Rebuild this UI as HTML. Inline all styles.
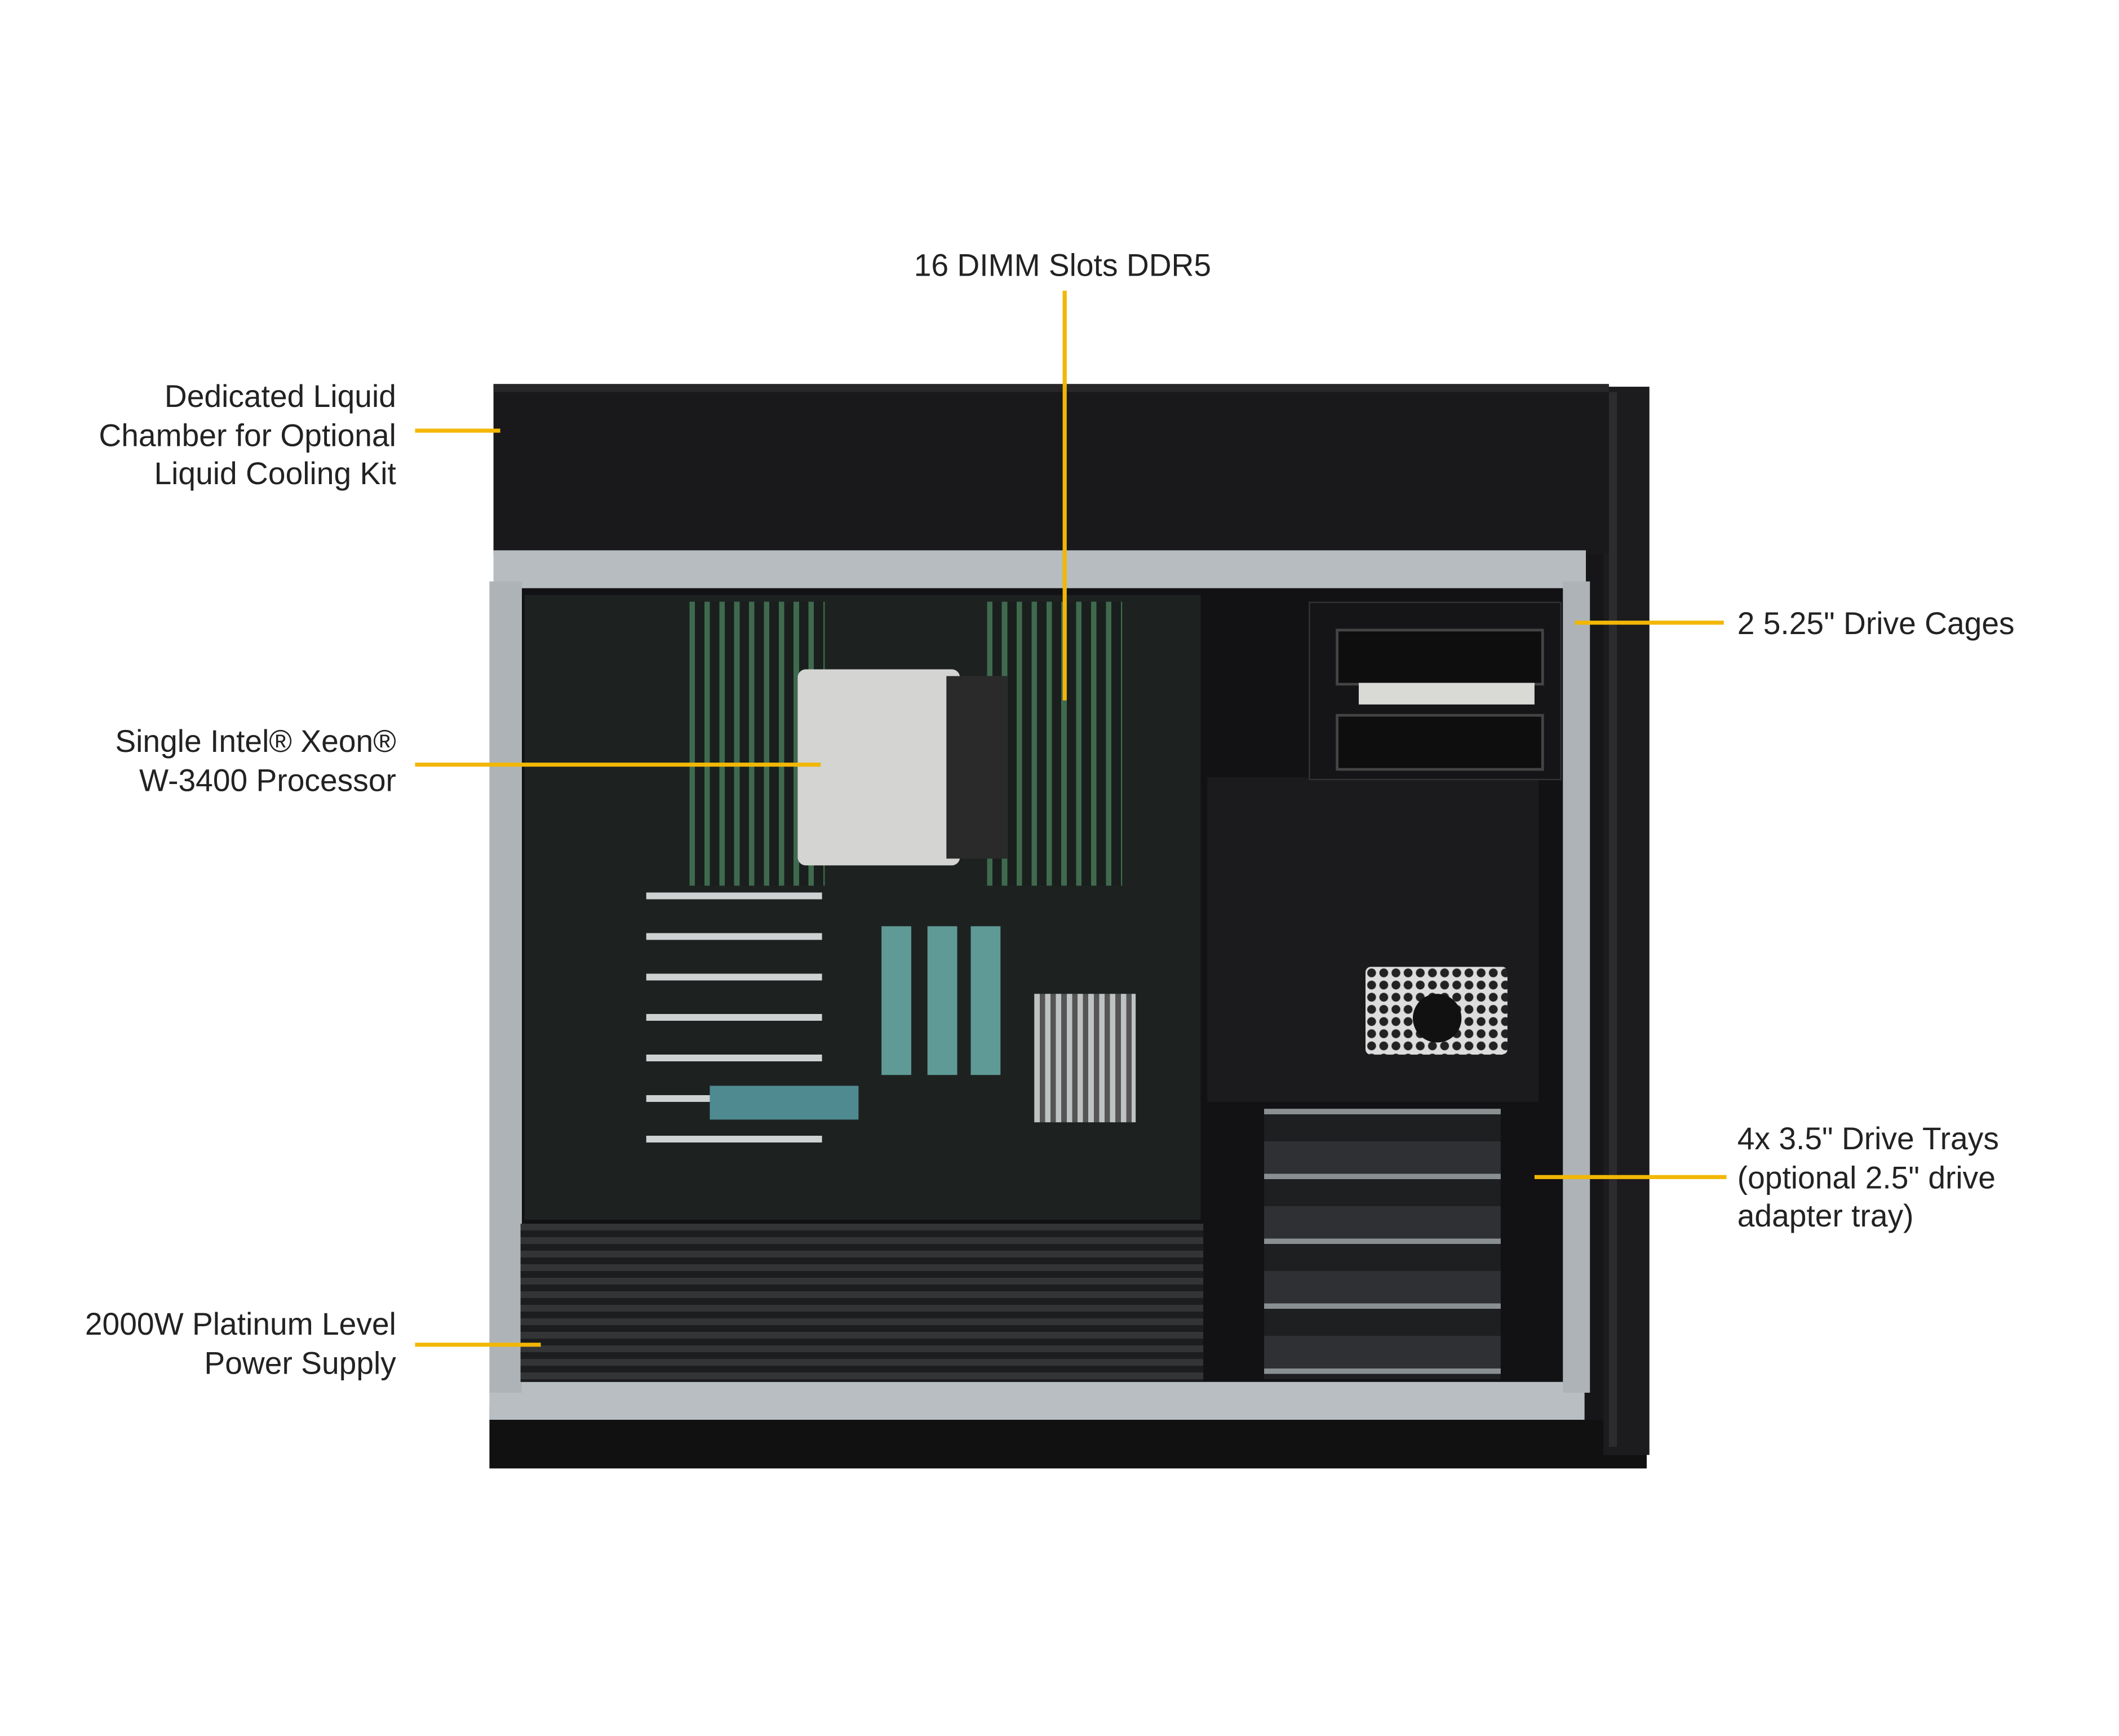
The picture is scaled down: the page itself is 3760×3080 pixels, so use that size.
<!DOCTYPE html>
<html><head><meta charset="utf-8"><style>
html,body{margin:0;padding:0;background:#fff;}
body{width:3760px;height:3080px;overflow:hidden;position:relative;}
#s{position:absolute;left:0;top:0;width:1568px;height:1284px;transform:scale(2.399);transform-origin:0 0;}
.a{position:absolute;}
.t{position:absolute;font-family:"Liberation Sans",Arial,sans-serif;font-size:23px;color:#222;line-height:28.5px;white-space:nowrap;}
.r{text-align:right;}
.y{position:absolute;background:#f2b705;}
</style></head><body><div id="s">
<!-- chassis -->
<div class="a" style="left:362px;top:1040px;width:856px;height:46px;background:#111;"></div>
<div class="a" style="left:1165px;top:400px;width:30px;height:650px;background:#161618;"></div>
<div class="a" style="left:1186px;top:286px;width:34px;height:790px;background:#1c1c1e;"></div>
<div class="a" style="left:1190px;top:290px;width:6px;height:780px;background:#2c2c2f;"></div>
<div class="a" style="left:365px;top:284px;width:825px;height:126px;background:#19191b;"></div>
<div class="a" style="left:365px;top:284px;width:825px;height:6px;background:#27272a;"></div>
<!-- interior -->
<div class="a" style="left:380px;top:430px;width:785px;height:600px;background:#121214;"></div>
<!-- rails -->
<div class="a" style="left:365px;top:407px;width:808px;height:28px;background:#b7bcc0;"></div>
<div class="a" style="left:362px;top:1022px;width:810px;height:28px;background:#b9bec2;"></div>
<div class="a" style="left:362px;top:430px;width:24px;height:600px;background:#aeb3b7;"></div>
<div class="a" style="left:1156px;top:430px;width:20px;height:600px;background:#aeb3b7;"></div>
<!-- motherboard -->
<div class="a" style="left:388px;top:440px;width:500px;height:462px;background:#1d2221;"></div>
<div class="a" style="left:510px;top:445px;width:100px;height:210px;background:repeating-linear-gradient(90deg,#3f6a4e 0 4px,#1a1f1e 4px 11px);"></div>
<div class="a" style="left:730px;top:445px;width:100px;height:210px;background:repeating-linear-gradient(90deg,#3f6a4e 0 4px,#1a1f1e 4px 11px);"></div>
<div class="a" style="left:590px;top:495px;width:120px;height:145px;background:#d4d4d2;border-radius:6px;"></div>
<div class="a" style="left:700px;top:500px;width:45px;height:135px;background:#2a2a2a;"></div>
<div class="a" style="left:478px;top:660px;width:130px;height:200px;background:repeating-linear-gradient(180deg,#cfd2d3 0 5px,#1d2221 5px 30px);"></div>
<div class="a" style="left:652px;top:685px;width:22px;height:110px;background:#5f9a96;"></div>
<div class="a" style="left:686px;top:685px;width:22px;height:110px;background:#5f9a96;"></div>
<div class="a" style="left:718px;top:685px;width:22px;height:110px;background:#5f9a96;"></div>
<div class="a" style="left:525px;top:803px;width:110px;height:25px;background:#4f8a90;"></div>
<div class="a" style="left:765px;top:735px;width:75px;height:95px;background:repeating-linear-gradient(90deg,#bfc2c3 0 4px,#555 4px 8px);"></div>
<!-- PSU -->
<div class="a" style="left:385px;top:905px;width:505px;height:117px;background:repeating-linear-gradient(180deg,#333436 0 5px,#1c1d1f 5px 10px);"></div>
<!-- drive side -->
<div class="a" style="left:893px;top:575px;width:245px;height:240px;background:#1b1b1d;"></div>
<div class="a" style="left:968px;top:445px;width:185px;height:130px;background:#151517;border:1px solid #333;"></div>
<div class="a" style="left:988px;top:465px;width:150px;height:38px;background:#0e0e0f;border:2px solid #444;"></div>
<div class="a" style="left:1005px;top:505px;width:130px;height:16px;background:#d9d9d6;"></div>
<div class="a" style="left:988px;top:528px;width:150px;height:38px;background:#0e0e0f;border:2px solid #444;"></div>
<div class="a" style="left:1010px;top:715px;width:105px;height:65px;background:radial-gradient(circle,#222 0 3px,#ddd 3.5px) 0 0/9px 9px;border-radius:4px;"></div>
<div class="a" style="left:1045px;top:735px;width:36px;height:36px;background:#111;border-radius:50%;"></div>
<div class="a" style="left:935px;top:820px;width:175px;height:200px;background:repeating-linear-gradient(180deg,#8a8f92 0 4px,#1d1f21 4px 24px,#2e3033 24px 48px);"></div>
<!-- labels -->
<div class="t" style="left:676px;top:182px;">16 DIMM Slots DDR5</div>
<div class="y" style="left:786px;top:215px;width:3px;height:303px;"></div>
<div class="t r" style="right:1275px;top:279px;">Dedicated Liquid<br>Chamber for Optional<br>Liquid Cooling Kit</div>
<div class="y" style="left:307px;top:317px;width:63px;height:3px;"></div>
<div class="t r" style="right:1275px;top:534px;">Single Intel® Xeon®<br>W-3400 Processor</div>
<div class="y" style="left:307px;top:564px;width:300px;height:3px;"></div>
<div class="t r" style="right:1275px;top:965px;">2000W Platinum Level<br>Power Supply</div>
<div class="y" style="left:307px;top:993px;width:93px;height:3px;"></div>
<div class="t" style="left:1285px;top:447px;">2 5.25" Drive Cages</div>
<div class="y" style="left:1165px;top:459px;width:110px;height:3px;"></div>
<div class="t" style="left:1285px;top:828px;">4x 3.5" Drive Trays<br>(optional 2.5" drive<br>adapter tray)</div>
<div class="y" style="left:1135px;top:869px;width:142px;height:3px;"></div>
</div></body></html>
